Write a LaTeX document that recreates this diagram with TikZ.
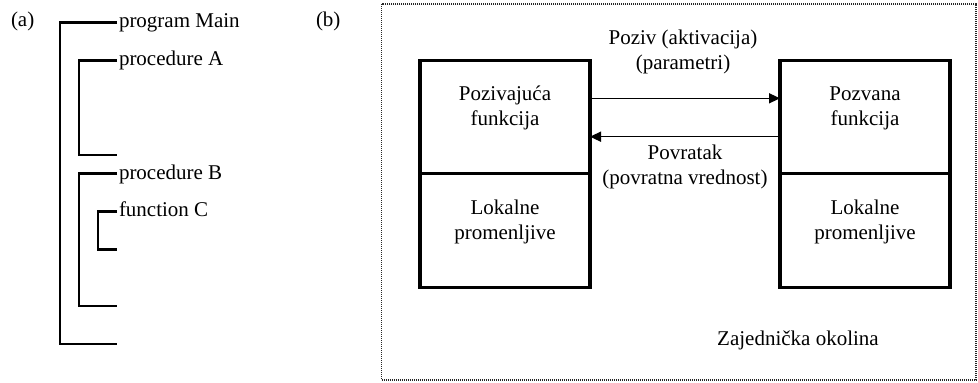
\documentclass[tikz,border=0pt]{standalone}
\usepackage{fontspec}
\setmainfont{Liberation Serif}
\usetikzlibrary{arrows.meta,calc}
\begin{document}
\begin{tikzpicture}[x=1pt,y=-1pt,
  every node/.style={inner sep=0pt,outer sep=0pt,font=\fontsize{21}{25}\selectfont},
  bracket/.style={line width=2.8pt,line join=miter},
  blocklabel/.style={align=center},
  framebox/.style={draw,line width=3.2pt,minimum width=170pt},
  callarrow/.style={line width=1.5pt,-{Triangle[length=11pt,width=10pt]}},
  envframe/.style={draw=black!85,line width=1.1pt,dash pattern=on 1pt off 1pt}]
\useasboundingbox (0,0) rectangle (978,383);

% ---------- (a) nesting of program units ----------
\node[anchor=base west] (la) at (11,26) {(a)};
\node[anchor=base west] (pmain) at (119,27) {program Main};
\node[anchor=base west] (pA) at (119,65) {procedure A};
\node[anchor=base west] (pB) at (119,179) {procedure B};
\node[anchor=base west] (fC) at (119,216) {function C};

\draw[bracket] (117,22.7) -- (60,22.7) -- (60,344) -- (117,344);
\draw[bracket] (117,60.7) -- (79,60.7) -- (79,155) -- (117,155);
\draw[bracket] (117,173.7) -- (79,173.7) -- (79,306) -- (117,306);
\draw[bracket] (117,211.3) -- (98,211.3) -- (98,249.3) -- (117,249.3);

% ---------- (b) caller / callee ----------
\node[anchor=base west] (lb) at (316,26) {(b)};
\draw[envframe] (381.7,4) rectangle (976,380);

% caller unit
\node[framebox,minimum height=112.6pt] (callerTop) at (505,117) {};
\node[framebox,minimum height=114pt] (callerBot) at (505,230.3) {};
% callee unit
\node[framebox,minimum height=112.6pt] (calleeTop) at (865,117) {};
\node[framebox,minimum height=114pt] (calleeBot) at (865,230.3) {};

\node[blocklabel] (tcaller) at (505,108) {Pozivajuća\\funkcija};
\node[blocklabel] (tcallerloc) at (505,222) {Lokalne\\promenljive};
\node[blocklabel] (tcallee) at (865,108) {Pozvana\\funkcija};
\node[blocklabel] (tcalleeloc) at (865,222) {Lokalne\\promenljive};

% call and return
\draw[callarrow] ([yshift=18.7pt]callerTop.east) -- ([yshift=18.7pt]calleeTop.west);
\draw[callarrow] ([yshift=-19.7pt]calleeTop.west) -- ([yshift=-19.7pt]callerTop.east);

\node[blocklabel] (tcall) at (683,52) {Poziv (aktivacija)\\(parametri)};
\node[blocklabel] (tret) at (685,167) {Povratak\\(povratna vrednost)};
\node (tenv) at (798,340) {Zajednička okolina};
\end{tikzpicture}
\end{document}
